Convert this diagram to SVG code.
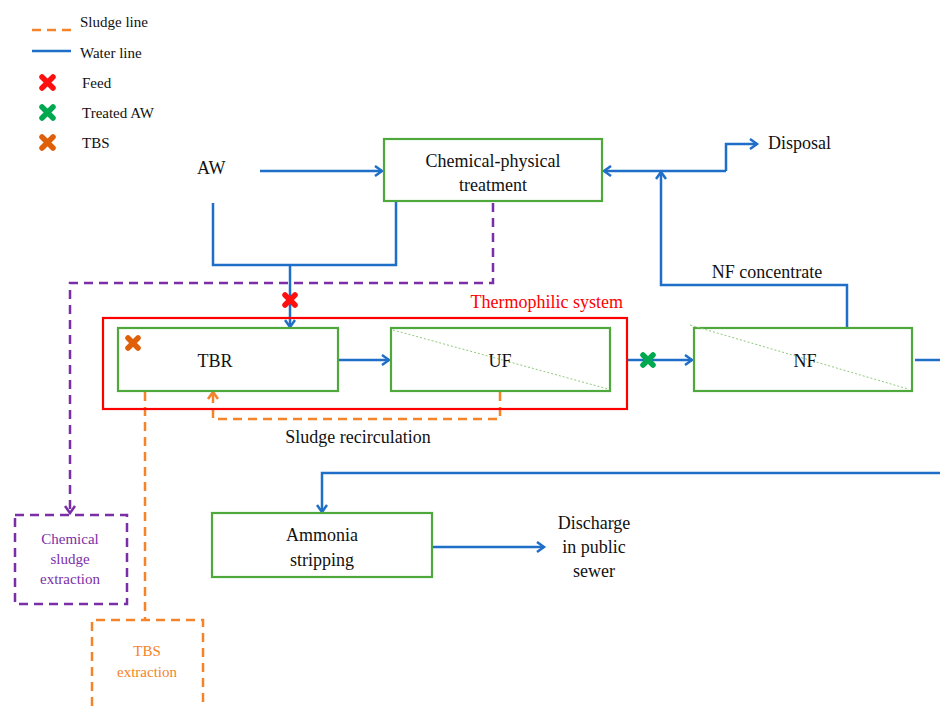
<svg xmlns="http://www.w3.org/2000/svg" width="940" height="706" viewBox="0 0 940 706">
<defs>
<style>
.t{font-size:18px;fill:#111}
.lg{font-size:15px;fill:#111}
.box{fill:#fff;stroke:#4EA83C;stroke-width:2.2}
.w{fill:none;stroke:#1F6FC8;stroke-width:2.5}
.s{fill:none;stroke:#F5832A;stroke-width:2.5;stroke-dasharray:9,6}
.p{fill:none;stroke:#7A2FA8;stroke-width:2.5;stroke-dasharray:9,6}
.diag{stroke:#8FCB7A;stroke-width:1;stroke-dasharray:2,2}
.xr{stroke:#FF1010;stroke-width:5.5;stroke-linecap:round}
.xg{stroke:#00A84F;stroke-width:5.5;stroke-linecap:round}
.xo{stroke:#E0600A;stroke-width:5.5;stroke-linecap:round}
</style>
<marker id="aw" markerWidth="12" markerHeight="12" refX="9" refY="6" orient="auto" markerUnits="userSpaceOnUse"><path d="M2,1 L9,6 L2,11" fill="none" stroke="#1F6FC8" stroke-width="2.5"/></marker>
<marker id="as" markerWidth="12" markerHeight="12" refX="9" refY="6" orient="auto" markerUnits="userSpaceOnUse"><path d="M2,1 L9,6 L2,11" fill="none" stroke="#F5832A" stroke-width="2.5"/></marker>
<marker id="ap" markerWidth="12" markerHeight="12" refX="9" refY="6" orient="auto" markerUnits="userSpaceOnUse"><path d="M2,1 L9,6 L2,11" fill="none" stroke="#7A2FA8" stroke-width="2.5"/></marker>
</defs>
<g font-family="Liberation Serif, Times New Roman, Times, DejaVu Serif, serif">
<g id="legend">
<line x1="32" y1="30" x2="72" y2="30" class="s"/>
<text x="80" y="27" class="lg">Sludge line</text>
<line x1="32" y1="51" x2="71" y2="51" class="w"/>
<text x="80" y="58" class="lg">Water line</text>
<path d="M42,77 L53,88 M53,77 L42,88" class="xr"/>
<text x="82" y="88" class="lg">Feed</text>
<path d="M42,107 L53,118 M53,107 L42,118" class="xg"/>
<text x="82" y="118" class="lg">Treated AW</text>
<path d="M42,137 L53,148 M53,137 L42,148" class="xo"/>
<text x="82" y="148" class="lg">TBS</text>
</g>

<g id="connectors">
<line x1="260" y1="171" x2="382" y2="171" class="w" marker-end="url(#aw)"/>
<polyline points="213,203 213,265 396,265 396,202" class="w"/>
<line x1="290" y1="265" x2="290" y2="327" class="w" marker-end="url(#aw)"/>
<polyline points="493,203 493,283 70,283 70,513" class="p" marker-end="url(#ap)"/>
<line x1="338" y1="360" x2="389" y2="360" class="w" marker-end="url(#aw)"/>
<line x1="627" y1="360" x2="692" y2="360" class="w" marker-end="url(#aw)"/>
<polyline points="847,328 847,285 661,285 661,172" class="w" marker-end="url(#aw)"/>
<line x1="726" y1="171" x2="604" y2="171" class="w" marker-end="url(#aw)"/>
<polyline points="726,171 726,144 757,144" class="w" marker-end="url(#aw)"/>
<line x1="915" y1="360" x2="940" y2="360" class="w"/>
<polyline points="940,473 322,473 322,512" class="w" marker-end="url(#aw)"/>
<line x1="432" y1="547" x2="544" y2="547" class="w" marker-end="url(#aw)"/>
<polyline points="500,392 500,419 213,419 213,392" class="s" marker-end="url(#as)"/>
<line x1="145" y1="392" x2="145" y2="620" class="s"/>
<path d="M285,295 L295,305 M295,295 L285,305" class="xr"/>
<path d="M643,355 L653,365 M653,355 L643,365" class="xg"/>
</g>

<g id="thermophilic">
<rect x="103" y="318" width="524" height="91" fill="none" stroke="#FF0000" stroke-width="2.2"/>
<text x="623" y="308" text-anchor="end" class="t" style="fill:#FF0000">Thermophilic system</text>
</g>

<g id="aw-label">
<text x="197" y="174" class="t">AW</text>
</g>

<g id="chemphys">
<rect x="384" y="139" width="218" height="62" class="box"/>
<text x="493" y="167" text-anchor="middle" class="t">Chemical-physical</text>
<text x="493" y="191" text-anchor="middle" class="t">treatment</text>
</g>

<g id="tbr">
<rect x="118" y="328" width="220" height="63" class="box"/>
<path d="M128,338 L138,348 M138,338 L128,348" class="xo"/>
<text x="215" y="367" text-anchor="middle" class="t">TBR</text>
</g>

<g id="uf">
<rect x="391" y="328" width="219" height="63" class="box"/>
<line x1="393" y1="330" x2="608" y2="389" class="diag"/>
<text x="500" y="367" text-anchor="middle" class="t">UF</text>
</g>

<g id="nf">
<rect x="694" y="328" width="218" height="63" class="box"/>
<line x1="690" y1="325" x2="908" y2="389" class="diag"/>
<text x="805" y="367" text-anchor="middle" class="t">NF</text>
</g>

<g id="disposal"><text x="768" y="149" class="t">Disposal</text></g>
<g id="nfconc"><text x="767" y="278" text-anchor="middle" class="t">NF concentrate</text></g>
<g id="recirc"><text x="358" y="443" text-anchor="middle" class="t">Sludge recirculation</text></g>

<g id="ammonia">
<rect x="212" y="513" width="220" height="64" class="box"/>
<text x="322" y="541" text-anchor="middle" class="t">Ammonia</text>
<text x="322" y="566" text-anchor="middle" class="t">stripping</text>
</g>

<g id="discharge">
<text x="594" y="529" text-anchor="middle" class="t">Discharge</text>
<text x="594" y="553" text-anchor="middle" class="t">in public</text>
<text x="594" y="577" text-anchor="middle" class="t">sewer</text>
</g>

<g id="chemsludge">
<rect x="15" y="515" width="112" height="89" fill="none" stroke="#7A2FA8" stroke-width="2.5" stroke-dasharray="9,6"/>
<text x="70" y="544" text-anchor="middle" class="lg" style="fill:#7A2FA8">Chemical</text>
<text x="70" y="564" text-anchor="middle" class="lg" style="fill:#7A2FA8">sludge</text>
<text x="70" y="584" text-anchor="middle" class="lg" style="fill:#7A2FA8">extraction</text>
</g>

<g id="tbsext">
<path d="M92,706 L92,620 L203,620 L203,706" fill="none" stroke="#F5832A" stroke-width="2.5" stroke-dasharray="9,6"/>
<text x="147" y="656" text-anchor="middle" class="lg" style="fill:#F5832A">TBS</text>
<text x="147" y="677" text-anchor="middle" class="lg" style="fill:#F5832A">extraction</text>
</g>
</g>
</svg>
